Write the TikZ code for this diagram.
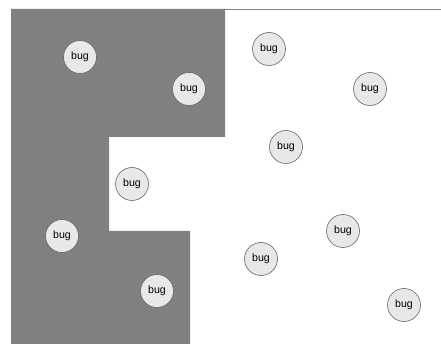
\documentclass[tikz,border=0pt]{standalone}
\usepackage{fontspec}
\setmainfont{Liberation Sans}
\usepackage{tikz}
\usetikzlibrary{positioning}
\usepackage{xcolor}
\definecolor{wallgray}{HTML}{808080}
\definecolor{bugfill}{HTML}{E8E8E8}

\begin{document}
\begin{tikzpicture}[
  x=1pt, y=-1pt,
  bug/.style={circle, draw=black!60, fill=bugfill, line width=0.6pt,
              minimum size=33pt, inner sep=0pt, font=\fontsize{10.6}{12}\selectfont},
  wall/.style={fill=wallgray, draw=none}
]
\useasboundingbox (0,0) rectangle (441,344);

%% Occupied region
\fill[wall] (11,9) -- (225,9) -- (225,137) -- (109,137) -- (109,231)
  -- (190,231) -- (190,344) -- (11,344) -- cycle;

%% Upper border
\draw[wallgray, line width=1pt] (225,9.5) -- (441,9.5);

%% Bugs inside the region
\node[bug] (bug1) at (80,57) {bug};
\node[bug] (bug2) at (189,89) {bug};
\node[bug] (bug3) at (62,236) {bug};
\node[bug] (bug4) at (157,291) {bug};

%% Bugs outside
\node[bug] (bug5) at (269,49) {bug};
\node[bug] (bug6) at (370,89) {bug};
\node[bug] (bug7) at (286,147) {bug};
\node[bug] (bug8) at (132,184) {bug};
\node[bug] (bug9) at (343,231) {bug};
\node[bug] (bug10) at (261,259) {bug};
\node[bug] (bug11) at (404,305) {bug};

\end{tikzpicture}
\end{document}
